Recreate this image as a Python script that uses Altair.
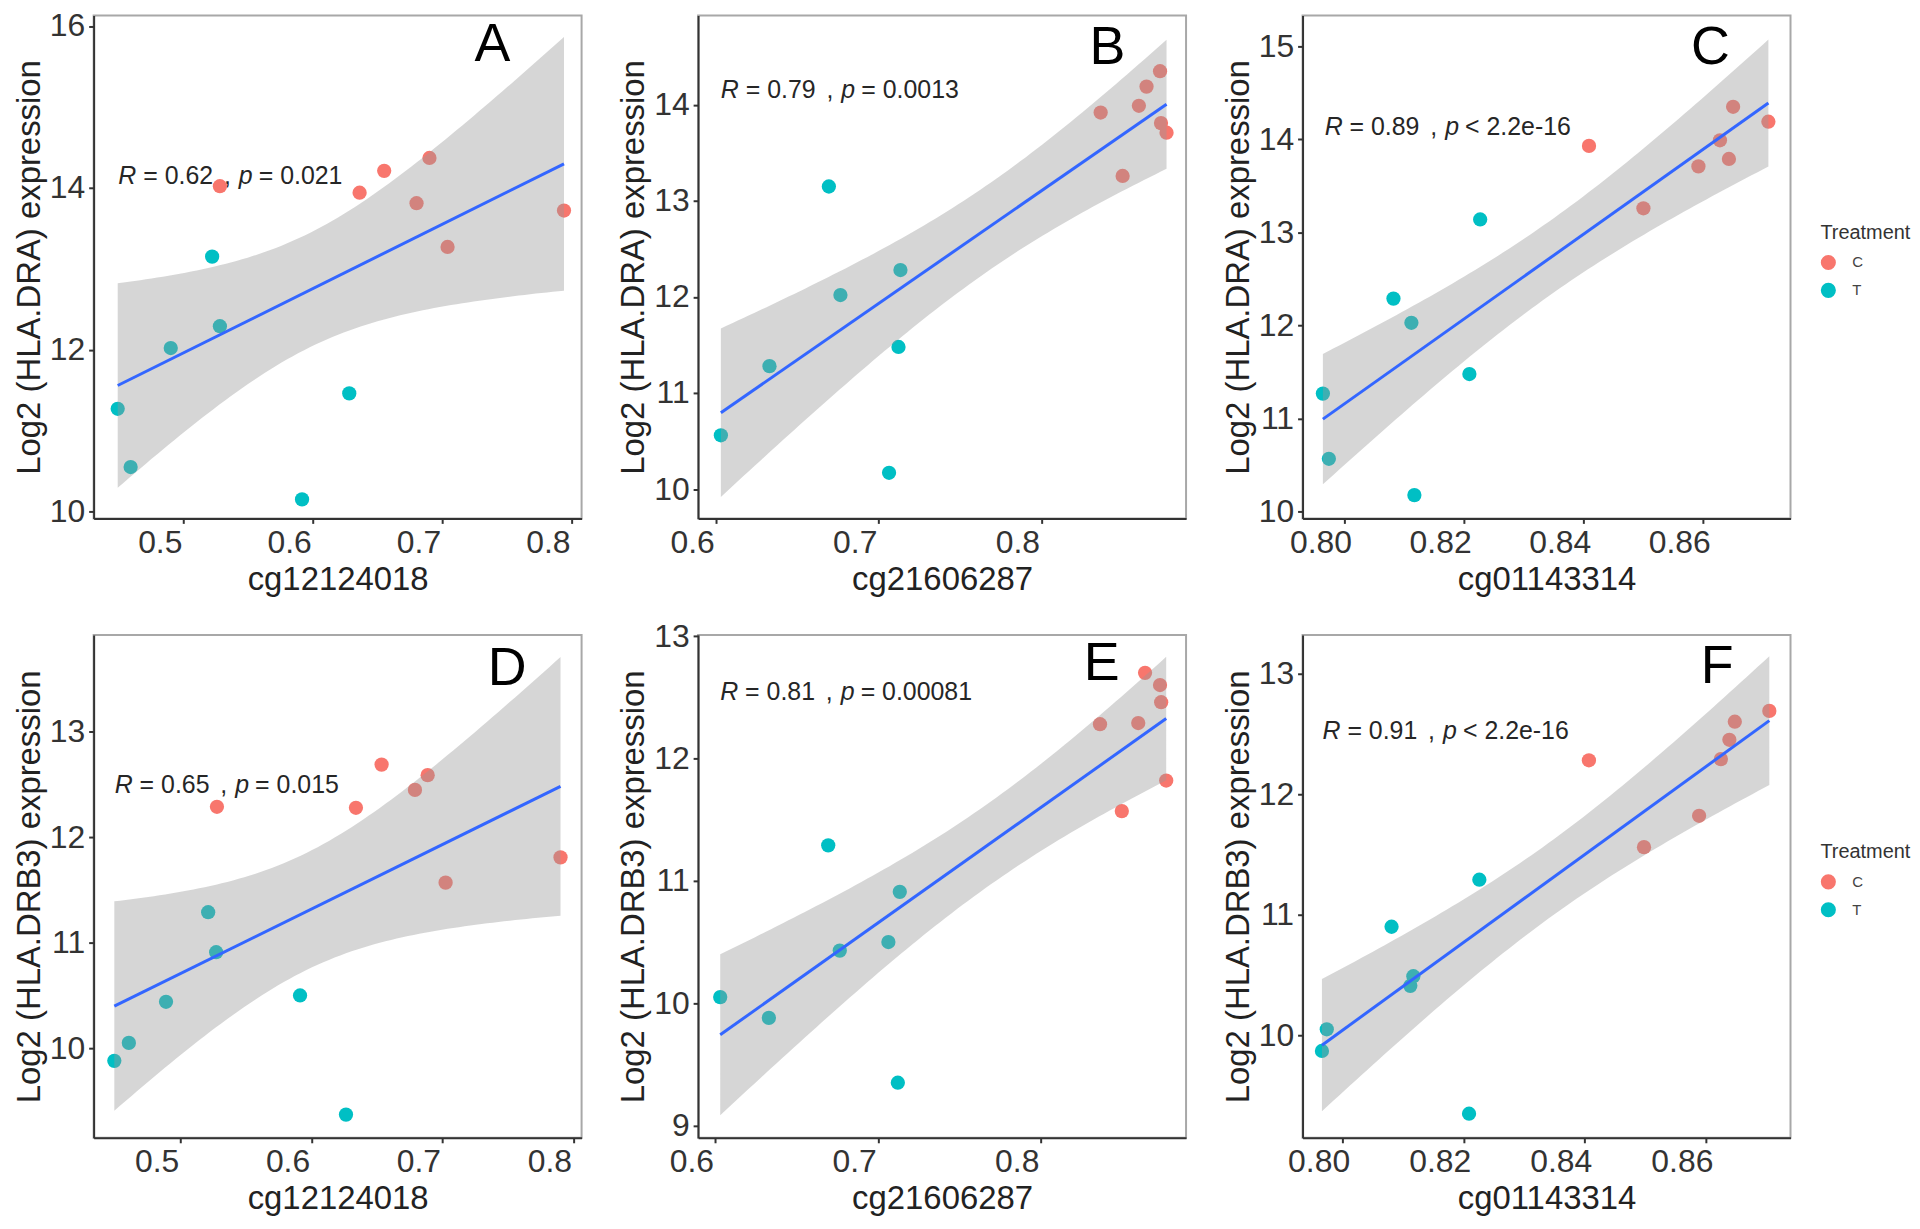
import altair as alt
import numpy as np
import pandas as pd

# ---------------- data ----------------
groups = ["C"] * 7 + ["T"] * 7

a_x_c = [0.528, 0.636, 0.655, 0.690, 0.680, 0.704, 0.794]
a_y_c = [14.02, 13.94, 14.21, 14.37, 13.81, 13.27, 13.72]
a_x_t = [0.522, 0.528, 0.490, 0.449, 0.459, 0.5915, 0.628]
a_y_t = [13.15, 12.29, 12.02, 11.27, 10.55, 10.15, 11.46]

b_x_c = [0.8365, 0.850, 0.860, 0.8647, 0.873, 0.8736, 0.877]
b_y_c = [13.92, 13.26, 13.99, 14.19, 14.35, 13.81, 13.71]
b_x_t = [0.6694, 0.6765, 0.7134, 0.7122, 0.6329, 0.603, 0.7064]
b_y_t = [13.15, 12.02, 12.28, 11.48, 11.28, 10.56, 10.17]

c_x_c = [0.8409, 0.850, 0.8592, 0.8628, 0.8643, 0.865, 0.8709]
c_y_c = [13.93, 13.26, 13.71, 13.99, 13.79, 14.35, 14.19]
c_x_t = [0.8227, 0.8082, 0.8112, 0.8209, 0.7964, 0.7974, 0.8117]
c_y_t = [13.14, 12.29, 12.03, 11.48, 11.27, 10.57, 10.18]

d_x_c = [0.5278, 0.634, 0.6536, 0.6888, 0.6791, 0.7025, 0.7903]
d_y_c = [12.29, 12.28, 12.69, 12.59, 12.45, 11.57, 11.81]
d_x_t = [0.5211, 0.5272, 0.4889, 0.4605, 0.4494, 0.5913, 0.6264]
d_y_t = [11.29, 10.91, 10.44, 10.05, 9.88, 10.50, 9.37]

e_x_c = [0.8642, 0.8734, 0.8741, 0.8365, 0.860, 0.8772, 0.8499]
e_y_c = [12.70, 12.60, 12.46, 12.28, 12.29, 11.82, 11.57]
e_x_t = [0.6694, 0.7134, 0.7064, 0.6765, 0.603, 0.6329, 0.7122]
e_y_t = [11.29, 10.91, 10.50, 10.43, 10.05, 9.88, 9.35]

f_x_c = [0.8407, 0.8498, 0.8589, 0.8625, 0.8639, 0.8648, 0.8705]
f_y_c = [12.28, 11.56, 11.82, 12.29, 12.45, 12.60, 12.69]
f_x_t = [0.8226, 0.8081, 0.8117, 0.8112, 0.7974, 0.7966, 0.8209]
f_y_t = [11.29, 10.90, 10.49, 10.41, 10.05, 9.87, 9.35]

letters = ["A", "B", "C", "D", "E", "F"]
x_titles = ["cg12124018", "cg21606287", "cg01143314"] * 2
y_titles = ["Log2 (HLA.DRA) expression"] * 3 + ["Log2 (HLA.DRB3) expression"] * 3
r_values = ["0.62", "0.79", "0.89", "0.65", "0.81", "0.91"]
p_ops = ["=", "=", "<", "=", "=", "<"]
p_values = ["0.021", "0.0013", "2.2e-16", "0.015", "0.00081", "2.2e-16"]

x_ticks = [[0.5, 0.6, 0.7, 0.8], [0.6, 0.7, 0.8], [0.80, 0.82, 0.84, 0.86]] * 2
x_formats = [".1f", ".1f", ".2f"] * 2
y_ticks = [[10, 12, 14, 16], [10, 11, 12, 13, 14], [10, 11, 12, 13, 14, 15],
           [10, 11, 12, 13], [9, 10, 11, 12, 13], [10, 11, 12, 13]]

# ---------------- layout / style (not data) ----------------
x_domains = [[0.4304, 0.8076], [0.589, 0.889], [0.793, 0.8746],
             [0.4336, 0.8064], [0.5894, 0.8894], [0.7934, 0.874]]
y_domains = [[9.915, 16.13], [9.695, 14.93], [9.93, 15.33],
             [9.15, 13.92], [8.90, 13.01], [9.15, 13.32]]
label_pos = [(0.4495, 14.15), (0.603, 14.15), (0.7967, 14.13),
             (0.4497, 12.50), (0.603, 12.54), (0.7967, 12.52)]
letter_pos = [(0.7387, 15.77), (0.8407, 14.59), (0.8612, 14.98),
              (0.7496, 13.60), (0.8376, 12.77), (0.8619, 13.05)]
show_legend = [False, False, True, False, False, True]

FONT = "Liberation Sans"
W, H = 490, 505
T975 = 2.1788128  # t quantile, df = 12 (n = 14)

series = [
    (a_x_c + a_x_t, a_y_c + a_y_t),
    (b_x_c + b_x_t, b_y_c + b_y_t),
    (c_x_c + c_x_t, c_y_c + c_y_t),
    (d_x_c + d_x_t, d_y_c + d_y_t),
    (e_x_c + e_x_t, e_y_c + e_y_t),
    (f_x_c + f_x_t, f_y_c + f_y_t),
]


def panel(i):
    xs_list, ys_list = series[i]
    df = pd.DataFrame({"x": xs_list, "y": ys_list, "Treatment": groups})

    xs = np.array(xs_list)
    ys = np.array(ys_list)
    n = len(xs)
    xbar, ybar = xs.mean(), ys.mean()
    sxx = ((xs - xbar) ** 2).sum()
    b = ((xs - xbar) * (ys - ybar)).sum() / sxx
    a = ybar - b * xbar
    s = np.sqrt(((ys - a - b * xs) ** 2).sum() / (n - 2))
    grid = np.linspace(xs.min(), xs.max(), 80)
    fit = a + b * grid
    se = s * np.sqrt(1.0 / n + (grid - xbar) ** 2 / sxx)
    band = pd.DataFrame({"x": grid, "y": fit - T975 * se, "hi": fit + T975 * se})

    xscale = alt.Scale(domain=x_domains[i], nice=False, zero=False)
    yscale = alt.Scale(domain=y_domains[i], nice=False, zero=False)
    xaxis = alt.Axis(values=x_ticks[i], format=x_formats[i], title=x_titles[i],
                     labelOffset=-24, labelPadding=4, titlePadding=5)
    yaxis = alt.Axis(values=y_ticks[i], format="d", title=y_titles[i],
                     labelPadding=4, titlePadding=3)

    def X():
        return alt.X("x:Q", scale=xscale, axis=xaxis)

    def Y():
        return alt.Y("y:Q", scale=yscale, axis=yaxis)

    if show_legend[i]:
        legend = alt.Legend(title="Treatment", orient="none", legendX=W + 30, legendY=208,
                            titleFontSize=20, titleFont=FONT, titleFontWeight="normal",
                            titleColor="#333333", labelFontSize=15, labelFont=FONT,
                            labelColor="#444444", symbolSize=230, symbolType="circle",
                            symbolStrokeWidth=0, rowPadding=12, titlePadding=12,
                            labelOffset=16)
    else:
        legend = None
    color = alt.Color("Treatment:N",
                      scale=alt.Scale(domain=["C", "T"], range=["#F8766D", "#00BFC4"]),
                      legend=legend)

    lx, ly = label_pos[i]
    ann_df = pd.DataFrame({"x": [lx], "y": [ly]})
    segs = [("R", "italic", 0), ("= " + r_values[i], "normal", 25), (",", "normal", 106),
            ("p", "italic", 121), (p_ops[i] + " " + p_values[i], "normal", 141)]
    ann_layers = []
    for txt, style, dx in segs:
        ann_layers.append(
            alt.Chart(ann_df).mark_text(text=txt, fontStyle=style, dx=dx, align="left",
                                        baseline="middle", fontSize=25, font=FONT,
                                        color="#262626")
            .encode(x=X(), y=Y())
        )

    lex, ley = letter_pos[i]
    letter = alt.Chart(pd.DataFrame({"x": [lex], "y": [ley]})).mark_text(
        text=letters[i], fontSize=54, font=FONT, color="#000000",
        align="center", baseline="middle").encode(x=X(), y=Y())

    pts = alt.Chart(df).mark_circle(size=205, opacity=1).encode(x=X(), y=Y(), color=color)
    ribbon = alt.Chart(band).mark_area(color="#999999", opacity=0.4, clip=True).encode(
        x=X(), y=Y(), y2="hi:Q")
    line = alt.Chart(df).transform_regression("x", "y").mark_line(
        color="#3366FF", strokeWidth=3, clip=True).encode(x=X(), y=Y())

    return alt.layer(*ann_layers, pts, ribbon, line, letter).properties(width=W, height=H)


row1 = alt.hconcat(panel(0), panel(1), panel(2), spacing=34).resolve_legend(color="independent")
row2 = alt.hconcat(panel(3), panel(4), panel(5), spacing=34).resolve_legend(color="independent")

chart = (
    alt.vconcat(row1, row2, spacing=22)
    .resolve_legend(color="independent")
    .properties(padding={"left": 4, "top": -2, "right": 0, "bottom": 0})
    .configure_view(stroke="#a8a8a8", strokeWidth=2)
    .configure_axis(grid=False, domainColor="#333333", domainWidth=2,
                    tickColor="#333333", tickWidth=2, tickSize=5,
                    labelFont=FONT, titleFont=FONT, labelFontSize=32, titleFontSize=33,
                    labelColor="#333333", titleColor="#222222", titleFontWeight="normal")
)

chart.save("out.html", embed_options={"renderer": "svg", "actions": False})
